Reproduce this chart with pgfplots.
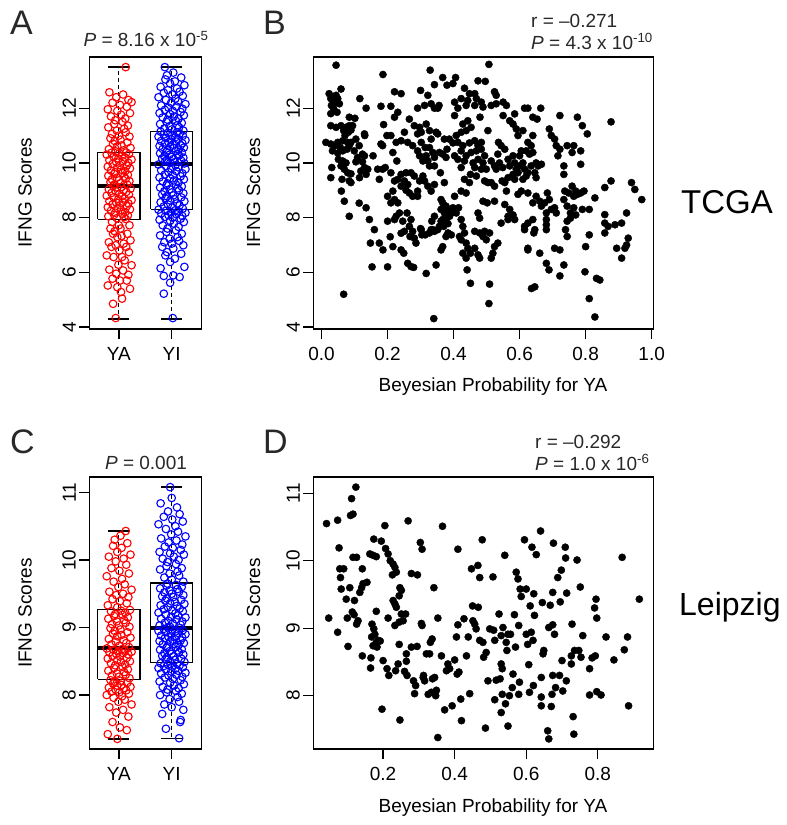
\documentclass[border=0pt]{standalone}
\usepackage{pgfplots}
\pgfplotsset{compat=1.18}
\usepackage{fontspec}
\setmainfont{Liberation Sans}
\definecolor{rred}{RGB}{255,0,0}
\definecolor{bblue}{RGB}{0,0,255}
\definecolor{txt}{RGB}{40,40,40}
\pgfplotsset{
  rpanel/.style={
    scale only axis, clip=false,
    axis line style={line width=1.3pt},
    every tick/.style={black, line width=1.3pt},
    tick align=outside, major tick length=10pt,
    xtick pos=left, ytick pos=left,
    ticklabel style={font=\fontsize{19}{22}\selectfont, text=black},
    xticklabel shift=5pt,
    yticklabel style={rotate=90, anchor=south},
    /pgf/number format/assume math mode=true,
  },
  boxl/.style={black, line width=1.3pt, mark=none},
  whisk/.style={black, line width=1.2pt, dash pattern=on 4pt off 3pt, mark=none},
  med/.style={black, line width=4pt, mark=none},
  redpts/.style={only marks, mark=o, mark size=3.8pt, rred, mark options={line width=1.1pt}},
  bluepts/.style={only marks, mark=o, mark size=3.8pt, bblue, mark options={line width=1.1pt}},
  dots/.style={only marks, mark=*, mark size=3.6pt, black},
}
\begin{document}
\begin{tikzpicture}[font=\fontsize{19}{22}\selectfont]
\useasboundingbox (0,0) rectangle (787pt,-825pt);

% ---------------- Panel A ----------------
\begin{axis}[rpanel, at={(89.3pt,-57pt)}, anchor=north west, width=112pt, height=272pt,
  xmin=0.44, xmax=2.56, ymin=3.93, ymax=13.87,
  xtick={1,2}, xticklabels={YA,YI}, ytick={4,6,8,10,12}]
\addplot[whisk] coordinates {(1,10.39) (1,13.5)};
\addplot[whisk] coordinates {(1,7.94) (1,4.3)};
\addplot[boxl] coordinates {(0.8,13.5) (1.2,13.5)};
\addplot[boxl] coordinates {(0.8,4.3) (1.2,4.3)};
\addplot[boxl] coordinates {(0.6,7.94) (1.4,7.94) (1.4,10.39) (0.6,10.39) (0.6,7.94)};
\addplot[med] coordinates {(0.6,9.17) (1.4,9.17)};
\addplot[whisk] coordinates {(2,11.15) (2,13.5)};
\addplot[whisk] coordinates {(2,8.30) (2,4.3)};
\addplot[boxl] coordinates {(1.8,13.5) (2.2,13.5)};
\addplot[boxl] coordinates {(1.8,4.3) (2.2,4.3)};
\addplot[boxl] coordinates {(1.6,8.30) (2.4,8.30) (2.4,11.15) (1.6,11.15) (1.6,8.30)};
\addplot[med] coordinates {(1.6,9.96) (2.4,9.96)};
\addplot[redpts] coordinates {
(0.94,4.33)(0.89,4.85)(1.06,5.04)(1.04,5.28)(1.21,5.40)(0.97,5.46)(0.79,5.52)(1.15,5.70)(1.02,5.70)(0.88,5.77)
(1.18,5.91)(0.95,5.95)(1.08,6.07)(0.82,6.10)(1.24,6.26)(0.99,6.28)(1.11,6.44)(0.90,6.56)(1.06,6.56)(0.77,6.62)
(1.19,6.74)(1.01,6.80)(0.86,6.93)(1.14,6.93)(0.94,6.99)(1.09,7.05)(0.81,7.10)(1.22,7.17)(0.97,7.29)(1.05,7.33)
(0.89,7.41)(1.16,7.41)(0.92,7.50)(1.03,7.60)(0.84,7.60)(1.20,7.72)(1.00,7.72)(0.87,7.84)
(1.13,7.95)(0.96,7.98)(1.10,8.02)(0.80,8.05)(1.17,8.08)(0.91,8.10)(1.07,8.14)(0.93,8.18)(1.12,8.20)(0.85,8.25)
(1.04,8.28)(1.21,8.30)(0.97,8.35)(0.79,8.38)(1.15,8.42)(1.02,8.45)(0.88,8.48)(1.18,8.52)(0.95,8.55)(1.08,8.58)
(0.82,8.60)(1.24,8.64)(0.99,8.68)(1.11,8.70)(0.90,8.74)(1.06,8.78)(0.77,8.80)(1.19,8.84)(1.01,8.88)(0.86,8.90)
(1.14,8.94)(0.94,8.97)(1.09,9.00)(0.81,9.03)(1.22,9.06)(0.97,9.10)(1.05,9.12)(0.89,9.15)
(1.16,9.20)(0.92,9.22)(1.03,9.26)(0.84,9.30)(1.20,9.33)(1.00,9.36)(0.87,9.40)(1.13,9.42)(0.96,9.46)(1.10,9.50)
(0.80,9.53)(1.17,9.56)(0.91,9.60)(1.07,9.63)(0.93,9.66)(1.12,9.70)(0.85,9.72)(1.04,9.76)(1.21,9.80)(0.97,9.83)
(0.79,9.86)(1.15,9.90)(1.02,9.92)(0.88,9.96)(1.18,10.00)(0.95,10.03)(1.08,10.06)(0.82,10.10)(1.24,10.12)(0.99,10.16)
(1.11,10.20)(0.90,10.22)(1.06,10.26)(0.77,10.30)(1.19,10.32)(1.01,10.35)(0.86,10.37)(1.14,10.38)
(0.94,10.42)(1.09,10.46)(0.81,10.50)(1.22,10.55)(0.97,10.60)(1.05,10.64)(0.89,10.70)(1.16,10.75)(0.92,10.80)(1.03,10.85)
(0.84,10.90)(1.20,10.96)(1.00,11.00)(0.87,11.06)(1.13,11.12)(0.96,11.18)(1.10,11.25)(0.80,11.30)(1.17,11.36)(0.91,11.42)
(1.07,11.50)(0.93,11.56)(1.12,11.62)(0.85,11.70)(1.04,11.76)(1.21,11.82)(0.97,11.90)(0.79,11.96)(1.15,12.05)(1.02,12.12)
(0.88,12.20)(1.18,12.30)(0.95,12.40)(1.08,12.50)(0.82,12.58)(1.24,12.22)(1.13,13.50)
};
\addplot[bluepts] coordinates {
(2.02,4.33)(1.85,5.22)(1.97,5.62)(2.15,5.83)(1.85,5.87)(2.03,5.89)(1.79,6.15)(2.24,6.20)(1.97,6.38)(2.06,6.50)
(1.88,6.62)(2.18,6.68)(1.91,6.74)(2.03,6.87)(1.82,6.93)(2.22,6.99)(2.00,7.05)(1.86,7.10)(2.14,7.15)(1.96,7.23)
(2.11,7.29)(1.78,7.35)(2.19,7.41)(1.90,7.48)(2.08,7.54)(1.92,7.60)(2.13,7.66)(1.83,7.72)(2.04,7.78)(2.23,7.84)
(1.97,7.88)(1.77,7.92)(2.17,7.96)(2.02,8.00)(1.87,8.03)(2.20,8.06)(1.94,8.09)(2.09,8.12)(1.80,8.15)(2.26,8.18)
(1.99,8.20)(2.12,8.23)(1.89,8.25)(2.07,8.27)(1.75,8.29)
(2.21,8.33)(2.01,8.37)(1.85,8.41)(2.15,8.45)(1.93,8.48)(2.10,8.52)(1.79,8.56)(2.24,8.60)(1.97,8.63)(2.06,8.67)
(1.88,8.70)(2.18,8.74)(1.91,8.78)(2.03,8.81)(1.82,8.85)(2.22,8.89)(2.00,8.92)(1.86,8.96)(2.14,9.00)(1.96,9.04)
(2.11,9.07)(1.78,9.10)(2.19,9.14)(1.90,9.18)(2.08,9.21)(1.92,9.25)(2.13,9.29)(1.83,9.32)(2.04,9.36)(2.23,9.40)
(1.97,9.44)(1.77,9.47)(2.17,9.51)(2.02,9.55)(1.87,9.58)(2.20,9.62)(1.94,9.66)(2.09,9.70)(1.80,9.73)(2.26,9.77)
(1.99,9.80)(2.12,9.84)(1.89,9.88)(2.07,9.91)(1.75,9.94)
(2.24,9.98)(1.97,10.00)(2.06,10.03)(1.88,10.06)(2.18,10.08)(1.91,10.11)(2.03,10.14)(1.82,10.16)(2.22,10.19)(2.00,10.22)
(1.86,10.24)(2.14,10.27)(1.96,10.30)(2.11,10.32)(1.78,10.35)(2.19,10.38)(1.90,10.40)(2.08,10.43)(1.92,10.46)(2.13,10.48)
(1.83,10.51)(2.04,10.54)(2.23,10.56)(1.97,10.59)(1.77,10.62)(2.17,10.64)(2.02,10.67)(1.87,10.70)(2.20,10.72)(1.94,10.75)
(2.09,10.78)(1.80,10.80)(2.26,10.83)(1.99,10.86)(2.12,10.88)(1.89,10.91)(2.07,10.94)(1.75,10.96)(2.21,10.99)(2.01,11.02)
(1.85,11.04)(2.15,11.07)(1.93,11.10)(2.10,11.12)(1.79,11.14)
(2.22,11.18)(2.00,11.22)(1.86,11.26)(2.14,11.30)(1.96,11.34)(2.11,11.38)(1.78,11.42)(2.19,11.46)(1.90,11.50)(2.08,11.54)
(1.92,11.58)(2.13,11.62)(1.83,11.66)(2.04,11.70)(2.23,11.74)(1.97,11.78)(1.77,11.82)(2.17,11.86)(2.02,11.90)(1.87,11.94)
(2.20,11.98)(1.94,12.02)(2.09,12.06)(1.80,12.10)(2.26,12.15)(1.99,12.20)(2.12,12.25)(1.89,12.30)(2.07,12.35)(1.75,12.40)
(2.21,12.45)(2.01,12.50)(1.85,12.56)(2.15,12.60)(1.93,12.66)(2.10,12.72)(1.79,12.78)(2.24,12.84)(1.97,12.90)(2.06,12.98)
(1.88,13.05)(2.18,13.12)(1.91,13.20)(2.03,13.30)(1.87,13.50)
};
\end{axis}

% ---------------- Panel B ----------------
\begin{axis}[rpanel, at={(313.3pt,-57pt)}, anchor=north west, width=340pt, height=272pt,
  xmin=-0.025, xmax=1.005, ymin=3.93, ymax=13.87,
  xtick={0,0.2,0.4,0.6,0.8,1.0}, ytick={4,6,8,10,12},
  xticklabel style={/pgf/number format/fixed, /pgf/number format/fixed zerofill, /pgf/number format/precision=1}]
\addplot[dots] table[row sep=\\] {
x y\\
0.044 13.57\\ 0.059 12.7\\ 0.023 12.53\\ 0.028 12.35\\ 0.033 12.4\\ 0.044 12.47\\ 0.049 12.35\\ 0.038 12.2\\
0.030 12.1\\ 0.054 12.16\\ 0.036 12.0\\ 0.047 11.85\\ 0.028 11.8\\ 0.028 11.36\\ 0.044 11.3\\ 0.059 11.36\\
0.074 11.3\\ 0.084 11.36\\ 0.067 11.18\\ 0.081 11.12\\ 0.094 11.36\\ 0.089 11.2\\ 0.013 10.75\\ 0.028 10.69\\
0.040 10.63\\ 0.049 10.75\\ 0.064 10.81\\ 0.079 10.75\\ 0.071 11.0\\ 0.057 10.56\\ 0.033 10.44\\ 0.049 10.36\\
0.064 10.44\\ 0.077 10.5\\ 0.084 10.63\\ 0.089 10.75\\ 0.051 10.13\\ 0.064 10.07\\ 0.074 10.0\\ 0.059 9.89\\
0.031 9.83\\ 0.069 9.77\\ 0.079 9.64\\ 0.028 9.46\\ 0.062 9.4\\ 0.084 9.34\\ 0.089 9.6\\ 0.060 8.97\\
0.069 8.6\\ 0.084 8.05\\ 0.067 5.2\\ 0.089 9.28\\ 0.084 11.67\\ 0.101 11.63\\
0.116 12.35\\ 0.135 12.0\\ 0.130 11.06\\ 0.131 11.0\\ 0.104 10.87\\ 0.114 10.63\\ 0.099 10.44\\ 0.124 10.32\\
0.130 10.26\\ 0.109 10.2\\ 0.104 10.04\\ 0.124 10.04\\ 0.130 9.83\\ 0.119 9.7\\ 0.140 9.77\\ 0.115 9.46\\
0.135 9.58\\ 0.156 10.26\\ 0.170 9.77\\ 0.175 9.4\\ 0.114 8.53\\ 0.135 8.36\\ 0.145 7.93\\ 0.148 7.07\\
0.160 7.56\\ 0.153 6.2\\ 0.175 7.07\\ 0.186 6.82\\ 0.180 12.07\\ 0.186 13.23\\ 0.188 11.4\\ 0.198 11.0\\
0.180 10.69\\ 0.185 10.63\\ 0.193 9.83\\ 0.185 9.77\\
0.200 6.2\\ 0.200 7.87\\ 0.208 7.3\\ 0.216 6.94\\ 0.221 12.6\\ 0.241 12.53\\ 0.210 12.07\\ 0.231 11.85\\
0.221 11.67\\ 0.210 11.0\\ 0.226 10.75\\ 0.241 10.81\\ 0.261 10.75\\ 0.266 11.6\\ 0.251 11.12\\ 0.281 11.36\\
0.297 11.3\\ 0.291 11.06\\ 0.276 10.63\\ 0.216 10.38\\ 0.228 10.07\\ 0.210 9.64\\ 0.221 9.34\\ 0.231 9.4\\
0.241 9.58\\ 0.256 9.64\\ 0.251 9.34\\ 0.261 9.21\\ 0.271 9.64\\ 0.281 9.52\\ 0.241 9.15\\ 0.256 9.0\\
0.266 8.9\\ 0.276 8.78\\ 0.291 8.97\\ 0.291 8.78\\ 0.200 8.78\\ 0.216 8.97\\ 0.221 8.66\\ 0.231 8.54\\
0.210 8.54\\ 0.236 8.17\\ 0.226 8.05\\ 0.221 7.93\\ 0.246 7.87\\ 0.259 8.17\\ 0.271 7.93\\ 0.266 7.68\\
0.241 7.43\\ 0.251 7.5\\ 0.268 7.31\\ 0.281 7.25\\ 0.276 7.5\\ 0.286 7.07\\ 0.241 6.82\\ 0.249 6.7\\
0.261 6.33\\ 0.271 6.21\\ 0.279 6.18\\ 0.300 7.6\\
0.300 12.65\\ 0.322 12.47\\ 0.312 12.1\\ 0.291 12.0\\ 0.332 12.16\\ 0.342 12.0\\ 0.352 12.0\\ 0.356 12.1\\
0.317 11.42\\ 0.302 11.12\\ 0.327 11.18\\ 0.347 11.12\\ 0.332 10.87\\ 0.352 11.06\\ 0.302 10.75\\ 0.314 10.56\\
0.327 10.56\\ 0.337 10.38\\ 0.291 10.44\\ 0.297 10.26\\ 0.317 10.26\\ 0.307 10.07\\ 0.322 10.07\\ 0.342 10.2\\
0.357 10.38\\ 0.367 10.32\\ 0.380 10.5\\ 0.377 10.2\\ 0.372 10.87\\ 0.387 10.87\\ 0.398 10.73\\ 0.327 9.89\\
0.342 9.89\\ 0.360 9.64\\ 0.372 9.28\\ 0.307 9.52\\ 0.312 9.34\\ 0.322 9.15\\ 0.332 8.97\\ 0.342 9.21\\
0.297 9.34\\ 0.362 8.66\\ 0.367 8.54\\ 0.377 8.42\\ 0.362 8.3\\ 0.372 8.17\\ 0.383 8.24\\ 0.388 8.05\\
0.393 8.17\\ 0.398 8.36\\ 0.377 7.93\\ 0.383 7.78\\ 0.367 7.93\\ 0.370 7.68\\ 0.362 7.87\\ 0.357 7.68\\
0.342 8.05\\ 0.334 7.87\\ 0.352 7.56\\ 0.337 7.56\\ 0.327 7.44\\ 0.342 7.5\\ 0.383 7.44\\ 0.377 7.31\\
0.393 7.37\\ 0.367 6.94\\ 0.362 6.82\\ 0.302 7.56\\ 0.304 7.37\\ 0.317 5.96\\ 0.347 6.27\\ 0.340 4.31\\
0.332 7.56\\ 0.314 7.37\\ 0.342 12.86\\ 0.329 13.39\\ 0.367 13.12\\ 0.380 12.84\\ 0.398 12.9\\
0.406 13.12\\ 0.433 12.73\\ 0.448 12.53\\ 0.464 12.53\\ 0.474 13.0\\ 0.496 12.98\\ 0.423 12.35\\ 0.443 12.28\\
0.469 12.35\\ 0.484 12.22\\ 0.403 12.22\\ 0.413 12.0\\ 0.438 12.1\\ 0.464 12.1\\ 0.489 12.04\\ 0.403 11.73\\
0.428 11.42\\ 0.443 11.54\\ 0.453 11.3\\ 0.423 11.12\\ 0.438 11.18\\ 0.408 11.0\\ 0.480 11.67\\ 0.504 11.18\\
0.413 10.75\\ 0.428 10.63\\ 0.448 10.73\\ 0.464 10.81\\ 0.474 10.63\\ 0.484 10.75\\ 0.423 10.44\\ 0.438 10.26\\
0.453 10.38\\ 0.469 10.44\\ 0.484 10.5\\ 0.494 10.26\\ 0.403 10.26\\ 0.413 10.13\\ 0.433 10.07\\ 0.459 10.0\\
0.474 10.13\\ 0.489 10.0\\ 0.423 9.83\\ 0.464 9.83\\ 0.484 9.77\\ 0.499 9.77\\ 0.451 9.58\\ 0.469 9.52\\
0.433 9.4\\ 0.448 9.28\\ 0.494 9.34\\ 0.504 9.28\\ 0.423 8.97\\ 0.438 8.9\\ 0.403 8.78\\ 0.415 8.36\\
0.408 8.17\\ 0.423 7.93\\ 0.428 7.68\\ 0.433 7.44\\ 0.418 7.31\\ 0.423 7.19\\ 0.438 7.07\\ 0.443 6.88\\
0.451 6.7\\ 0.464 6.88\\ 0.474 6.64\\ 0.428 6.7\\ 0.438 6.52\\ 0.441 6.09\\ 0.451 5.6\\ 0.479 6.52\\
0.464 7.5\\ 0.479 7.44\\ 0.489 7.31\\ 0.494 7.5\\ 0.499 7.19\\ 0.509 7.44\\ 0.489 8.6\\ 0.502 8.54\\
0.474 8.17\\ 0.479 7.98\\ 0.509 5.57\\ 0.507 4.86\\ 0.507 13.6\\
0.524 12.6\\ 0.529 12.47\\ 0.514 12.1\\ 0.529 12.16\\ 0.550 12.22\\ 0.560 12.1\\ 0.550 11.73\\ 0.570 11.54\\
0.580 11.42\\ 0.590 11.24\\ 0.585 11.79\\ 0.595 11.0\\ 0.610 11.18\\ 0.615 12.0\\ 0.536 10.75\\ 0.544 10.63\\
0.555 10.5\\ 0.534 10.32\\ 0.514 10.07\\ 0.524 9.89\\ 0.539 10.0\\ 0.549 9.83\\ 0.529 9.77\\ 0.565 10.13\\
0.580 10.26\\ 0.570 9.89\\ 0.585 10.0\\ 0.600 10.26\\ 0.605 10.44\\ 0.590 9.77\\ 0.595 9.64\\ 0.580 9.58\\
0.565 9.46\\ 0.555 9.28\\ 0.547 9.34\\ 0.560 8.97\\ 0.514 9.28\\ 0.524 9.15\\ 0.600 9.89\\ 0.610 10.0\\
0.615 9.77\\ 0.610 9.4\\ 0.620 9.52\\ 0.605 8.97\\ 0.524 8.6\\ 0.555 8.48\\ 0.570 8.3\\ 0.580 8.1\\
0.565 8.05\\ 0.585 7.93\\ 0.544 7.8\\ 0.534 7.07\\ 0.524 6.94\\ 0.519 6.7\\ 0.514 6.52\\ 0.595 8.85\\
0.615 7.68\\ 0.615 7.56\\ 0.625 6.88\\ 0.625 7.8\\ 0.585 9.4\\ 0.565 7.93\\
0.625 12.0\\ 0.640 11.67\\ 0.640 11.0\\ 0.625 10.75\\ 0.635 10.63\\ 0.620 10.44\\ 0.630 10.32\\ 0.640 10.38\\
0.650 10.0\\ 0.656 9.89\\ 0.635 9.89\\ 0.646 9.64\\ 0.625 9.64\\ 0.650 9.46\\ 0.664 12.0\\ 0.653 11.6\\
0.666 9.95\\ 0.625 8.9\\ 0.640 8.54\\ 0.650 8.78\\ 0.661 8.6\\ 0.666 8.42\\ 0.676 8.54\\ 0.681 8.17\\
0.681 7.93\\ 0.681 7.74\\ 0.681 7.56\\ 0.684 8.9\\ 0.690 8.66\\ 0.696 8.3\\ 0.706 8.36\\ 0.711 8.17\\
0.640 7.93\\ 0.646 7.56\\ 0.643 7.44\\ 0.625 6.82\\ 0.661 6.7\\ 0.681 6.33\\ 0.689 6.09\\ 0.636 5.41\\
0.646 5.47\\ 0.690 11.24\\ 0.696 11.0\\ 0.706 10.87\\ 0.711 10.63\\ 0.716 10.26\\
0.722 11.73\\ 0.734 9.89\\ 0.734 9.58\\ 0.722 10.5\\ 0.744 10.63\\ 0.764 10.63\\ 0.759 10.38\\ 0.775 11.67\\
0.790 11.36\\ 0.805 11.06\\ 0.785 10.44\\ 0.785 9.95\\ 0.737 8.97\\ 0.734 8.66\\ 0.749 8.9\\ 0.759 9.15\\
0.770 8.97\\ 0.775 8.85\\ 0.764 8.78\\ 0.744 8.42\\ 0.754 8.17\\ 0.744 7.87\\ 0.739 7.56\\ 0.744 7.31\\
0.754 7.98\\ 0.764 8.36\\ 0.770 8.1\\ 0.785 8.9\\ 0.790 8.3\\ 0.795 8.97\\ 0.722 6.82\\ 0.734 6.27\\
0.722 5.87\\ 0.706 6.88\\
0.811 8.3\\ 0.800 6.94\\ 0.811 7.37\\ 0.798 6.02\\ 0.811 5.04\\ 0.828 4.37\\ 0.833 5.78\\ 0.843 5.72\\
0.828 8.72\\ 0.858 8.11\\ 0.858 7.8\\ 0.858 7.44\\ 0.868 7.68\\ 0.889 7.74\\ 0.909 7.8\\ 0.894 6.88\\
0.909 6.52\\ 0.924 7.0\\ 0.929 7.25\\ 0.919 6.88\\ 0.924 8.17\\ 0.877 11.5\\ 0.877 9.34\\ 0.858 9.1\\
0.939 9.28\\ 0.949 9.03\\ 0.970 8.66\\
};
\end{axis}

% ---------------- Panel C ----------------
\begin{axis}[rpanel, at={(89.3pt,-477pt)}, anchor=north west, width=112pt, height=272pt,
  xmin=0.44, xmax=2.56, ymin=7.2, ymax=11.23,
  xtick={1,2}, xticklabels={YA,YI}, ytick={8,9,10,11}]
\addplot[whisk] coordinates {(1,9.27) (1,10.43)};
\addplot[whisk] coordinates {(1,8.23) (1,7.35)};
\addplot[boxl] coordinates {(0.8,10.43) (1.2,10.43)};
\addplot[boxl] coordinates {(0.8,7.35) (1.2,7.35)};
\addplot[boxl] coordinates {(0.6,8.23) (1.4,8.23) (1.4,9.27) (0.6,9.27) (0.6,8.23)};
\addplot[med] coordinates {(0.6,8.69) (1.4,8.69)};
\addplot[whisk] coordinates {(2,9.66) (2,11.08)};
\addplot[whisk] coordinates {(2,8.48) (2,7.36)};
\addplot[boxl] coordinates {(1.8,11.08) (2.2,11.08)};
\addplot[boxl] coordinates {(1.8,7.36) (2.2,7.36)};
\addplot[boxl] coordinates {(1.6,8.48) (2.4,8.48) (2.4,9.66) (1.6,9.66) (1.6,8.48)};
\addplot[med] coordinates {(1.6,9.0) (2.4,9.0)};
\addplot[redpts] coordinates {
(0.97,7.35)(0.79,7.42)(1.15,7.48)(1.02,7.52)(0.88,7.60)(1.18,7.68)(0.95,7.74)(1.08,7.78)(0.82,7.82)(1.24,7.86)
(0.99,7.90)(1.11,7.93)(0.90,7.96)(1.06,7.98)(0.77,8.00)(1.19,8.02)(1.01,8.04)(0.86,8.05)(1.14,8.07)(0.94,8.08)
(1.09,8.10)(0.81,8.11)(1.22,8.12)(0.97,8.14)(1.05,8.15)(0.89,8.17)(1.16,8.18)(0.92,8.20)(1.03,8.21)(0.84,8.22)
(1.20,8.25)(1.00,8.27)(0.87,8.29)(1.13,8.30)(0.96,8.32)(1.10,8.34)(0.80,8.36)(1.17,8.38)(0.91,8.40)(1.07,8.42)
(0.93,8.44)(1.12,8.45)(0.85,8.47)(1.04,8.49)(1.21,8.50)(0.97,8.52)(0.79,8.54)(1.15,8.55)(1.02,8.57)(0.88,8.58)
(1.18,8.60)(0.95,8.61)(1.08,8.62)(0.82,8.63)(1.24,8.64)(0.99,8.65)(1.11,8.66)(0.90,8.67)(1.06,8.68)(0.77,8.69)
(1.19,8.71)(1.01,8.73)(0.86,8.75)(1.14,8.77)(0.94,8.79)(1.09,8.81)(0.81,8.83)(1.22,8.85)(0.97,8.87)(1.05,8.89)
(0.89,8.91)(1.16,8.93)(0.92,8.95)(1.03,8.97)(0.84,8.99)(1.20,9.01)(1.00,9.03)(0.87,9.05)(1.13,9.07)(0.96,9.09)
(1.10,9.11)(0.80,9.13)(1.17,9.15)(0.91,9.17)(1.07,9.19)(0.93,9.20)(1.12,9.22)(0.85,9.24)(1.04,9.25)(1.21,9.26)
(0.97,9.30)(0.79,9.33)(1.15,9.36)(1.02,9.39)(0.88,9.42)(1.18,9.45)(0.95,9.48)(1.08,9.50)(0.82,9.53)(1.24,9.56)
(0.99,9.60)(1.11,9.64)(0.90,9.68)(1.06,9.72)(0.77,9.76)(1.19,9.80)(1.01,9.84)(0.86,9.88)(1.14,9.93)(0.94,9.98)
(1.09,10.02)(0.81,10.05)(1.22,10.08)(0.97,10.12)(1.05,10.18)(0.89,10.21)(1.16,10.25)(0.92,10.30)(1.03,10.36)(1.13,10.43)
};
\addplot[bluepts] coordinates {
(2.14,7.36)(1.89,7.50)(2.16,7.60)(2.17,7.63)(1.82,7.72)(2.22,7.78)(2.00,7.82)(1.86,7.86)(2.14,7.90)(1.96,7.94)
(2.11,7.97)(1.78,8.00)(2.19,8.02)(1.90,8.04)(2.08,8.06)(1.92,8.08)(2.13,8.10)(1.83,8.12)(2.04,8.14)(2.23,8.16)
(1.97,8.18)(1.77,8.20)(2.17,8.22)(2.02,8.24)(1.87,8.26)(2.20,8.27)(1.94,8.29)(2.09,8.30)(1.80,8.32)(2.26,8.33)
(1.99,8.35)(2.12,8.36)(1.89,8.38)(2.07,8.39)(1.75,8.40)(2.21,8.41)(2.01,8.42)(1.85,8.43)(2.15,8.44)(1.93,8.45)
(2.10,8.46)(1.79,8.47)
(2.24,8.49)(1.97,8.50)(2.06,8.52)(1.88,8.53)(2.18,8.54)(1.91,8.56)(2.03,8.57)(1.82,8.58)(2.22,8.60)(2.00,8.61)
(1.86,8.62)(2.14,8.63)(1.96,8.65)(2.11,8.66)(1.78,8.67)(2.19,8.68)(1.90,8.70)(2.08,8.71)(1.92,8.72)(2.13,8.74)
(1.83,8.75)(2.04,8.76)(2.23,8.77)(1.97,8.79)(1.77,8.80)(2.17,8.81)(2.02,8.82)(1.87,8.84)(2.20,8.85)(1.94,8.86)
(2.09,8.87)(1.80,8.88)(2.26,8.90)(1.99,8.91)(2.12,8.92)(1.89,8.93)(2.07,8.94)(1.75,8.95)(2.21,8.96)(2.01,8.97)
(1.85,8.98)(2.15,8.99)(1.93,9.00)
(1.97,9.01)(1.77,9.03)(2.17,9.04)(2.02,9.06)(1.87,9.07)(2.20,9.09)(1.94,9.10)(2.09,9.12)(1.80,9.13)(2.26,9.15)
(1.99,9.16)(2.12,9.18)(1.89,9.19)(2.07,9.21)(1.75,9.22)(2.21,9.24)(2.01,9.25)(1.85,9.27)(2.15,9.28)(1.93,9.30)
(2.10,9.32)(1.79,9.33)(2.24,9.35)(1.97,9.36)(2.06,9.38)(1.88,9.40)(2.18,9.41)(1.91,9.43)(2.03,9.45)(1.82,9.46)
(2.22,9.48)(2.00,9.50)(1.86,9.52)(2.14,9.53)(1.96,9.55)(2.11,9.57)(1.78,9.58)(2.19,9.60)(1.90,9.62)(2.08,9.63)
(1.92,9.65)
(2.22,9.68)(2.00,9.71)(1.86,9.74)(2.14,9.77)(1.96,9.80)(2.11,9.83)(1.78,9.86)(2.19,9.88)(1.90,9.91)(2.08,9.94)
(1.92,9.97)(2.13,10.00)(1.83,10.02)(2.04,10.05)(2.23,10.08)(1.97,10.10)(1.77,10.12)(2.17,10.15)(2.02,10.18)(1.87,10.20)
(2.20,10.23)(1.94,10.26)(2.09,10.29)(1.80,10.32)(2.26,10.35)(1.99,10.38)(2.12,10.42)(1.89,10.46)(2.07,10.50)(1.75,10.53)
(2.21,10.57)(2.01,10.60)(1.85,10.64)(2.15,10.68)(1.93,10.72)(2.10,10.78)(1.79,10.84)(2.00,10.92)(1.97,11.08)
};
\end{axis}

% ---------------- Panel D ----------------
\begin{axis}[rpanel, at={(313.3pt,-477pt)}, anchor=north west, width=340pt, height=272pt,
  xmin=0.005, xmax=0.955, ymin=7.21, ymax=11.24,
  xtick={0.2,0.4,0.6,0.8}, ytick={8,9,10,11},
  xticklabel style={/pgf/number format/fixed, /pgf/number format/fixed zerofill, /pgf/number format/precision=1}]
\addplot[dots] table[row sep=\\] {
x y\\
0.042 10.55\\ 0.048 9.15\\ 0.073 10.6\\ 0.073 8.94\\ 0.077 10.19\\ 0.079 9.88\\ 0.081 9.75\\ 0.090 9.88\\
0.083 9.58\\ 0.097 9.43\\ 0.102 8.73\\ 0.100 9.15\\ 0.107 9.6\\ 0.109 10.67\\ 0.112 10.92\\ 0.116 10.69\\
0.124 11.09\\ 0.116 10.05\\ 0.126 10.05\\ 0.120 9.41\\ 0.114 9.24\\ 0.119 9.2\\ 0.126 9.06\\ 0.130 9.11\\
0.135 9.53\\ 0.140 9.6\\ 0.144 9.66\\ 0.142 9.88\\ 0.155 9.68\\ 0.163 10.1\\ 0.172 10.08\\ 0.181 10.06\\
0.174 10.32\\ 0.195 10.29\\ 0.205 10.52\\ 0.207 10.18\\ 0.214 10.1\\ 0.220 10.0\\ 0.228 9.95\\ 0.233 9.9\\
0.226 9.79\\ 0.237 9.83\\ 0.247 9.6\\ 0.251 9.56\\ 0.245 9.48\\ 0.228 9.41\\ 0.233 9.36\\ 0.237 9.31\\
0.251 9.21\\ 0.263 9.21\\ 0.256 9.11\\ 0.245 9.09\\ 0.233 9.04\\ 0.214 9.15\\ 0.181 9.25\\ 0.169 9.06\\
0.174 8.99\\ 0.177 8.91\\ 0.168 8.87\\ 0.186 8.82\\ 0.192 8.81\\ 0.180 8.78\\ 0.172 8.74\\ 0.183 8.72\\
0.142 8.59\\ 0.166 8.56\\ 0.165 8.41\\ 0.200 8.52\\ 0.211 8.4\\ 0.216 8.3\\ 0.235 8.37\\ 0.242 8.47\\
0.245 8.76\\ 0.265 8.51\\ 0.260 8.36\\ 0.267 8.3\\ 0.279 8.72\\ 0.295 8.73\\ 0.285 8.22\\ 0.291 8.15\\
0.288 8.03\\ 0.312 8.27\\ 0.316 8.22\\ 0.321 8.62\\ 0.330 8.62\\ 0.332 8.79\\ 0.337 8.84\\ 0.338 8.25\\
0.344 8.27\\ 0.326 8.02\\ 0.335 8.05\\ 0.349 8.08\\ 0.347 8.0\\ 0.353 7.38\\ 0.363 8.59\\ 0.366 10.51\\
0.353 9.15\\ 0.342 9.6\\ 0.304 10.27\\ 0.309 10.17\\ 0.307 9.07\\ 0.309 9.04\\ 0.279 9.81\\ 0.270 10.59\\
0.372 7.79\\ 0.377 8.37\\ 0.381 8.47\\ 0.386 8.4\\ 0.393 7.85\\ 0.400 8.53\\ 0.405 8.87\\ 0.409 9.05\\
0.407 8.32\\ 0.412 8.35\\ 0.417 7.95\\ 0.419 7.63\\ 0.409 10.17\\ 0.426 9.14\\ 0.433 8.59\\ 0.438 8.87\\
0.442 8.03\\ 0.447 9.88\\ 0.450 9.33\\ 0.451 9.11\\ 0.456 9.06\\ 0.460 8.99\\ 0.465 9.93\\ 0.470 9.75\\
0.466 9.31\\ 0.470 8.82\\ 0.479 8.79\\ 0.477 10.31\\ 0.481 8.57\\ 0.488 8.64\\ 0.486 7.52\\ 0.493 8.22\\
0.498 8.99\\ 0.507 9.76\\ 0.509 8.97\\ 0.512 8.82\\ 0.516 8.23\\ 0.512 7.94\\ 0.524 9.21\\ 0.530 8.89\\
0.535 9.01\\ 0.530 8.47\\ 0.533 8.4\\ 0.527 8.25\\ 0.533 8.02\\ 0.540 10.08\\ 0.544 8.79\\ 0.546 8.67\\
0.549 8.91\\ 0.542 7.88\\ 0.530 7.75\\ 0.549 7.55\\ 0.553 8.0\\ 0.561 8.12\\ 0.556 8.91\\ 0.563 8.32\\
0.567 9.2\\ 0.570 8.72\\ 0.572 9.83\\ 0.577 9.73\\ 0.579 9.04\\ 0.583 9.58\\ 0.586 9.47\\ 0.581 8.2\\
0.579 8.02\\ 0.595 10.31\\ 0.600 9.58\\ 0.600 8.91\\ 0.604 8.76\\ 0.607 8.46\\ 0.611 9.33\\ 0.614 8.94\\
0.616 10.2\\ 0.619 8.82\\ 0.623 9.19\\ 0.621 9.51\\ 0.628 10.09\\ 0.609 8.05\\ 0.620 8.15\\ 0.640 10.44\\
0.642 8.27\\ 0.642 7.98\\ 0.642 7.85\\ 0.645 9.38\\ 0.647 8.62\\ 0.649 8.67\\ 0.660 7.48\\ 0.663 7.36\\
0.663 9.01\\ 0.667 9.34\\ 0.670 7.84\\ 0.672 8.02\\ 0.674 9.05\\ 0.674 9.53\\ 0.676 10.26\\ 0.679 8.91\\
0.674 8.3\\ 0.682 8.12\\ 0.688 9.75\\ 0.693 8.3\\ 0.695 9.39\\ 0.698 9.86\\ 0.700 8.52\\ 0.702 8.07\\
0.709 10.2\\ 0.710 10.04\\ 0.712 8.22\\ 0.713 9.52\\ 0.726 8.47\\ 0.728 9.06\\ 0.726 8.59\\ 0.731 7.69\\
0.733 7.43\\ 0.735 8.67\\ 0.742 10.01\\ 0.747 8.67\\ 0.751 9.61\\ 0.753 8.57\\ 0.758 8.89\\ 0.777 8.4\\
0.777 8.01\\ 0.784 8.56\\ 0.793 8.59\\ 0.795 9.43\\ 0.791 9.3\\ 0.797 9.15\\ 0.797 8.06\\ 0.809 8.01\\
0.823 8.87\\ 0.845 8.53\\ 0.868 10.05\\ 0.874 8.68\\ 0.883 8.87\\ 0.886 7.85\\ 0.916 9.43\\ 0.197 7.8\\
0.247 7.64\\ 0.265 8.62\\ 0.296 9.79\\ 0.313 8.3\\
};
\end{axis}

% ---------------- Text ----------------
\begin{scope}[every node/.style={inner sep=0pt, text=txt}]
\node[anchor=base west, font=\fontsize{34}{34}\selectfont] at (10pt,-34pt) {A};
\node[anchor=base west, font=\fontsize{34}{34}\selectfont] at (263pt,-34pt) {B};
\node[anchor=base west, font=\fontsize{34}{34}\selectfont] at (10pt,-453pt) {C};
\node[anchor=base west, font=\fontsize{34}{34}\selectfont] at (263pt,-453pt) {D};
\node[anchor=base] at (146pt,-46.7pt) {\textit{P} = 8.16 x 10\textsuperscript{-5}};
\node[anchor=base] at (146pt,-469pt) {\textit{P} = 0.001};
\node[anchor=base west] at (531pt,-27pt) {r = –0.271};
\node[anchor=base west] at (531pt,-49pt) {\textit{P} = 4.3 x 10\textsuperscript{-10}};
\node[anchor=base west] at (535pt,-448pt) {r = –0.292};
\node[anchor=base west] at (535pt,-470pt) {\textit{P} = 1.0 x 10\textsuperscript{-6}};
\node[anchor=base west, font=\fontsize{33}{33}\selectfont, text=black] at (681pt,-213pt) {TCGA};
\node[anchor=base west, font=\fontsize{32}{32}\selectfont, text=black] at (679pt,-615pt) {Leipzig};
\node[rotate=90, anchor=base, text=black] at (31.7pt,-192.5pt) {IFNG Scores};
\node[rotate=90, anchor=base, text=black] at (260pt,-192.5pt) {IFNG Scores};
\node[rotate=90, anchor=base, text=black] at (31.7pt,-613pt) {IFNG Scores};
\node[rotate=90, anchor=base, text=black] at (260pt,-613pt) {IFNG Scores};
\node[anchor=base, text=black] at (493pt,-391pt) {Beyesian Probability for YA};
\node[anchor=base, text=black] at (493pt,-812pt) {Beyesian Probability for YA};
\end{scope}
\end{tikzpicture}
\end{document}
